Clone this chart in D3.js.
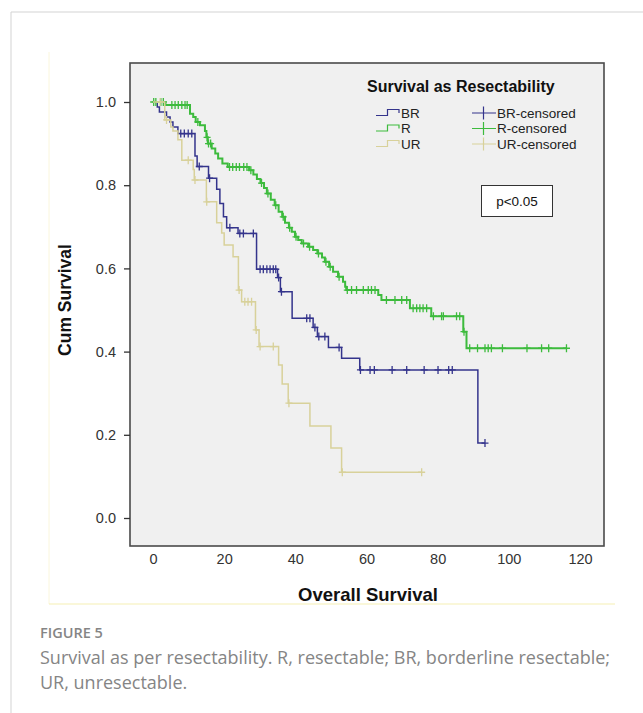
<!DOCTYPE html>
<html>
<head>
<meta charset="utf-8">
<script src="https://cdn.jsdelivr.net/npm/d3@7"></script>
<style>
  html, body { margin: 0; padding: 0; background: #fff; }
  svg { display: block; }
</style>
</head>
<body>
<div id="chart"></div>
<script>
// Kaplan-Meier steps (months, cumulative survival)
const brTimes = [1.2, 1.8, 3.8, 4.8, 5.6, 7.0, 11.8, 12.4, 15.6, 17.9, 18.8, 19.8, 20.7, 23.9, 29.1, 35.0, 35.8, 39.1, 45.0, 46.2, 49.3, 53.0, 58.1, 91.3];
const brSurv = [0.988, 0.976, 0.964, 0.952, 0.94, 0.924, 0.87, 0.845, 0.817, 0.79, 0.756, 0.724, 0.698, 0.684, 0.598, 0.578, 0.544, 0.48, 0.458, 0.436, 0.41, 0.384, 0.356, 0.18];
const brCensor = [7.8, 8.8, 9.9, 10.9, 13.0, 15.9, 21.6, 24.4, 25.4, 28.2, 30.1, 31.0, 32.0, 32.9, 33.8, 34.5, 35.3, 36.1, 43.2, 44.1, 45.5, 46.6, 48.3, 52.3, 58.3, 61.0, 62.2, 67.2, 71.3, 76.2, 80.1, 83.1, 84.1, 93.3];

const rTimes = [3.5, 10.4, 11.3, 12.0, 13.2, 14.6, 15.0, 15.4, 16.5, 17.5, 18.3, 19.5, 21.0, 27.0, 28.2, 29.2, 30.2, 31.2, 32.0, 33.1, 34.2, 35.3, 36.3, 37.1, 38.2, 39.0, 39.9, 40.8, 41.8, 43.6, 45.0, 46.2, 47.5, 48.3, 49.5, 50.6, 52.0, 53.4, 54.0, 54.3, 63.3, 64.2, 72.2, 78.2, 87.2, 88.1];
const rSurv = [0.993, 0.972, 0.964, 0.952, 0.944, 0.93, 0.915, 0.9, 0.888, 0.876, 0.864, 0.852, 0.844, 0.836, 0.826, 0.815, 0.805, 0.793, 0.78, 0.765, 0.752, 0.736, 0.724, 0.71, 0.698, 0.688, 0.676, 0.668, 0.66, 0.652, 0.644, 0.636, 0.626, 0.616, 0.604, 0.592, 0.58, 0.568, 0.556, 0.548, 0.536, 0.524, 0.504, 0.485, 0.448, 0.408];
const rCensor = [0.2, 0.8, 2.2, 2.9, 5.3, 6.2, 7.1, 8.1, 9.0, 9.6, 12.6, 15.2, 15.6, 16.2, 21.5, 22.4, 23.4, 24.3, 25.5, 26.4, 27.5, 30.5, 32.3, 34.5, 36.6, 38.4, 40.2, 42.3, 44.0, 46.5, 48.6, 49.8, 52.3, 54.6, 55.8, 57.2, 59.1, 60.5, 61.4, 62.4, 65.6, 68.0, 69.9, 71.3, 73.1, 74.1, 75.0, 75.9, 76.9, 78.8, 81.1, 81.6, 85.3, 86.2, 87.4, 89.0, 91.2, 93.3, 94.2, 95.1, 98.2, 105.1, 109.2, 111.2, 116.2];

const urTimes = [3.3, 5.0, 5.6, 7.0, 8.1, 11.3, 11.6, 15.0, 17.9, 19.3, 20.0, 22.5, 24.0, 24.9, 28.8, 29.8, 35.3, 36.3, 38.0, 44.1, 50.0, 53.0];
const urSurv = [0.957, 0.94, 0.93, 0.909, 0.86, 0.838, 0.8125, 0.76, 0.71, 0.685, 0.656, 0.628, 0.548, 0.52, 0.452, 0.412, 0.368, 0.322, 0.276, 0.221, 0.168, 0.11];
const urCensor = [2.0, 3.8, 9.9, 11.8, 15.1, 24.2, 25.8, 26.7, 27.7, 29.0, 30.1, 33.8, 38.2, 53.2, 75.5];

const groupNames = ["BR", "R", "UR"];
const censorNames = ["BR-censored", "R-censored", "UR-censored"];
const xTicks = [0, 20, 40, 60, 80, 100, 120];
const yTicks = [0.0, 0.2, 0.4, 0.6, 0.8, 1.0];

const groups = [
    { name: "BR", times: brTimes, surv: brSurv, censor: brCensor, color: "#34348c", width: 1.5 },
    { name: "R", times: rTimes, surv: rSurv, censor: rCensor, color: "#3dbb3d", width: 2 },
    { name: "UR", times: urTimes, surv: urSurv, censor: urCensor, color: "#d8d19a", width: 1.5 }
];

const width = 643, height = 713;
// plot frame (SPSS-style box)
const box = { left: 130, right: 604, top: 63, bottom: 546 };

const x = d3.scaleLinear().domain([0, 120]).range([153, 580]);
const y = d3.scaleLinear().domain([0, 1]).range([518, 102]);

const svg = d3.select("#chart").append("svg")
    .attr("width", width)
    .attr("height", height)
    .style("font-family", "'Liberation Sans', Arial, sans-serif");

// card border
svg.append("path")
    .attr("d", `M11,${height} V12 H${width}`)
    .attr("fill", "none")
    .attr("stroke", "#d3d3d3")
    .attr("stroke-width", 1);

// faint image border of the spss output
svg.append("path")
    .attr("d", `M49,52 V604`)
    .attr("fill", "none")
    .attr("stroke", "#faf6dc")
    .attr("stroke-width", 1);
svg.append("path")
    .attr("d", `M49,604 H615`)
    .attr("fill", "none")
    .attr("stroke", "#f6efb4")
    .attr("stroke-width", 1.2);

// plot background
svg.append("rect")
    .attr("x", box.left)
    .attr("y", box.top)
    .attr("width", box.right - box.left)
    .attr("height", box.bottom - box.top)
    .attr("fill", "#f0f0f0");

// survival value at time t (step function)
function survAt(g, t) {
    let s = 1;
    g.times.forEach((tt, i) => { if (tt <= t) s = g.surv[i]; });
    return s;
}

const line = d3.line()
    .x(d => x(d[0]))
    .y(d => y(d[1]))
    .curve(d3.curveStepAfter);

const plot = svg.append("g");

groups.forEach(g => {
    const end = Math.max(d3.max(g.times), d3.max(g.censor));
    const pts = [[0, 1]].concat(g.times.map((t, i) => [t, g.surv[i]]));
    pts.push([end, g.surv[g.surv.length - 1]]);

    plot.append("path")
        .datum(pts)
        .attr("d", line)
        .attr("fill", "none")
        .attr("stroke", g.color)
        .attr("stroke-width", g.width);

    // censored marks (+)
    plot.selectAll(null)
        .data(g.censor)
        .enter()
        .append("path")
        .attr("d", t => {
            const cx = x(t), cy = y(survAt(g, t));
            return `M${cx - 3.5},${cy} H${cx + 3.5} M${cx},${cy - 4} V${cy + 4}`;
        })
        .attr("stroke", g.color)
        .attr("stroke-width", 1.3)
        .attr("fill", "none");
});

// frame
svg.append("rect")
    .attr("x", box.left)
    .attr("y", box.top)
    .attr("width", box.right - box.left)
    .attr("height", box.bottom - box.top)
    .attr("fill", "none")
    .attr("stroke", "#4a4a4a")
    .attr("stroke-width", 1.6);

// y axis
const yAxis = svg.append("g")
    .attr("transform", `translate(${box.left},0)`)
    .call(d3.axisLeft(y).tickValues(yTicks).tickFormat(d3.format(".1f")).tickSize(6).tickPadding(8));
yAxis.select(".domain").remove();
yAxis.selectAll("line").attr("stroke", "#333").attr("stroke-width", 1.3);
yAxis.selectAll("text")
    .attr("fill", "#333")
    .style("font-size", "14.5px")
    .style("font-family", "'Liberation Sans', Arial, sans-serif");

// x axis (labels only)
const xAxis = svg.append("g")
    .attr("transform", `translate(0,${box.bottom})`)
    .call(d3.axisBottom(x).tickValues(xTicks).tickSize(0).tickPadding(8));
xAxis.select(".domain").remove();
xAxis.selectAll("text")
    .attr("fill", "#333")
    .style("font-size", "14.5px")
    .style("font-family", "'Liberation Sans', Arial, sans-serif");

// axis titles
svg.append("text")
    .attr("x", (box.left + box.right) / 2 + 1)
    .attr("y", 601)
    .attr("text-anchor", "middle")
    .style("font-size", "18.5px")
    .style("font-weight", "bold")
    .attr("fill", "#111")
    .text("Overall Survival");

svg.append("text")
    .attr("transform", "translate(71,300) rotate(-90)")
    .attr("text-anchor", "middle")
    .style("font-size", "17.5px")
    .style("font-weight", "bold")
    .attr("fill", "#111")
    .text("Cum Survival");

// legend
const legend = svg.append("g");
legend.append("text")
    .attr("x", 367)
    .attr("y", 92)
    .style("font-size", "16px")
    .style("font-weight", "bold")
    .attr("fill", "#111")
    .text("Survival as Resectability");

const rowY = [113, 128.5, 144];

legend.selectAll("path.step")
    .data(groups)
    .enter()
    .append("path")
    .attr("class", "step")
    .attr("d", (d, i) => {
        const cy = rowY[i];
        return `M376,${cy + 2.5} H387.5 V${cy - 3.5} H399 V${cy}`;
    })
    .attr("fill", "none")
    .attr("stroke", d => d.color)
    .attr("stroke-width", 1.2);

legend.selectAll("text.gname")
    .data(groupNames)
    .enter()
    .append("text")
    .attr("class", "gname")
    .attr("x", 401)
    .attr("y", (d, i) => rowY[i])
    .attr("dy", "0.36em")
    .style("font-size", "13.5px")
    .attr("fill", "#222")
    .text(d => d);

legend.selectAll("path.cens")
    .data(groups)
    .enter()
    .append("path")
    .attr("class", "cens")
    .attr("d", (d, i) => {
        const cy = rowY[i];
        return `M472,${cy} H496 M483.5,${cy - 6.5} V${cy + 6.5}`;
    })
    .attr("fill", "none")
    .attr("stroke", d => d.color)
    .attr("stroke-width", 1.2);

legend.selectAll("text.cname")
    .data(censorNames)
    .enter()
    .append("text")
    .attr("class", "cname")
    .attr("x", 497)
    .attr("y", (d, i) => rowY[i])
    .attr("dy", "0.36em")
    .style("font-size", "13.5px")
    .attr("fill", "#222")
    .text(d => d);

// p value box
svg.append("rect")
    .attr("x", 481.5)
    .attr("y", 185.5)
    .attr("width", 71)
    .attr("height", 31)
    .attr("fill", "#fff")
    .attr("stroke", "#333")
    .attr("stroke-width", 1);
svg.append("text")
    .attr("x", 517)
    .attr("y", 201)
    .attr("dy", "0.36em")
    .attr("text-anchor", "middle")
    .style("font-size", "13.5px")
    .attr("fill", "#111")
    .text("p<0.05");

// caption
const caption = svg.append("g")
    .style("font-family", "'Open Sans', 'Noto Sans', sans-serif")
    .attr("fill", "#858585");
caption.append("text")
    .attr("x", 40)
    .attr("y", 638)
    .style("font-size", "14.5px")
    .style("font-weight", "600")
    .text("FIGURE 5");
caption.append("text")
    .attr("x", 40)
    .attr("y", 664)
    .style("font-size", "18px")
    .text("Survival as per resectability. R, resectable; BR, borderline resectable;");
caption.append("text")
    .attr("x", 40)
    .attr("y", 689)
    .style("font-size", "18px")
    .text("UR, unresectable.");
</script>
</body>
</html>
